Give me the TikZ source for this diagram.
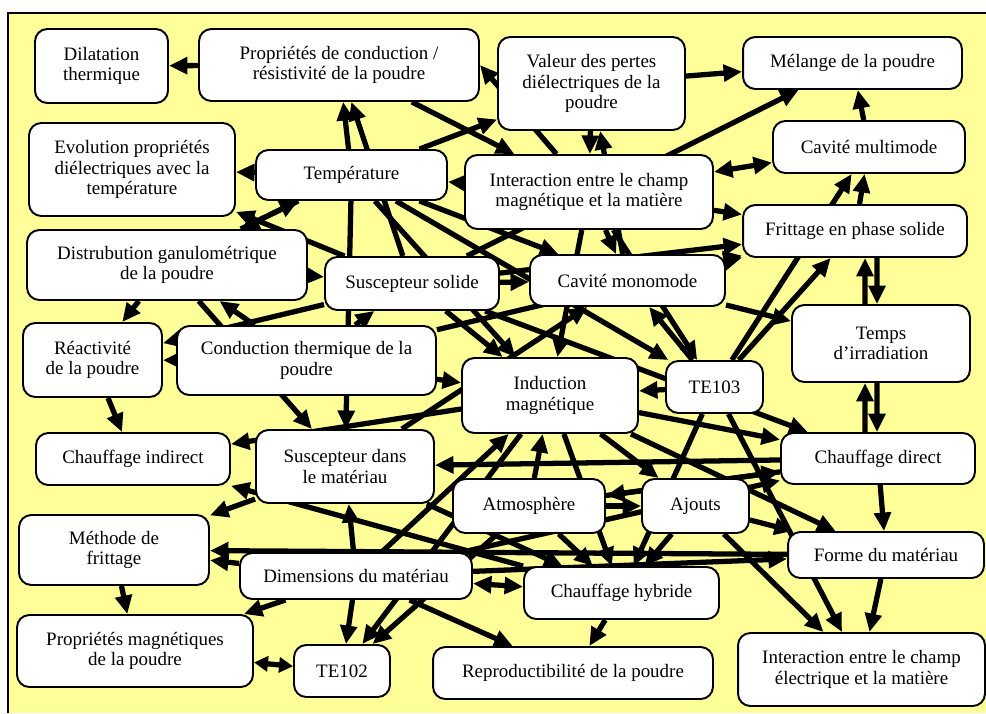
\documentclass[tikz,border=0pt]{standalone}
\usepackage{fontspec}
\setmainfont{Liberation Serif}
\usetikzlibrary{arrows.meta,backgrounds}
\definecolor{paleyellow}{RGB}{255,255,153}

\begin{document}
\begin{tikzpicture}[x=0.02cm,y=-0.02cm,font=\fontsize{10.8}{11.8}\selectfont,
 box/.style={draw,line width=1.1pt,fill=white,rounded corners=7pt,align=center,inner sep=1pt},
 arr/.style={-{Triangle[length=3.7mm,width=3.3mm]},line width=3pt},
 dbl/.style={arr,{Triangle[length=3.7mm,width=3.3mm]}-{Triangle[length=3.7mm,width=3.3mm]}}]
\useasboundingbox (0,0) rectangle (986,713);
\node[box,minimum width=2.66cm,minimum height=1.48cm] (dil) at (101.5,66) {Dilatation\\thermique};
\node[box,minimum width=5.6cm,minimum height=1.44cm] (cond) at (339,65) {Propriétés de conduction /\\résistivité de la poudre};
\node[box,minimum width=3.74cm,minimum height=1.86cm] (pertes) at (591.5,83.5) {Valeur des pertes\\diélectriques de la\\poudre};
\node[box,minimum width=4.38cm,minimum height=1.04cm] (mel) at (852.5,63) {Mélange de la poudre};
\node[box,minimum width=4.12cm,minimum height=1.86cm] (evol) at (132,169.5) {Evolution propriétés\\diélectriques avec la\\température};
\node[box,minimum width=3.82cm,minimum height=1.0cm] (temp) at (351.5,175) {Température};
\node[box,minimum width=4.96cm,minimum height=1.48cm] (interM) at (589,192) {Interaction entre le champ\\magnétique et la matière};
\node[box,minimum width=3.84cm,minimum height=1.04cm] (cavMulti) at (869,147) {Cavité multimode};
\node[box,minimum width=4.48cm,minimum height=1.04cm] (frit) at (855,231) {Frittage en phase solide};
\node[box,minimum width=5.6cm,minimum height=1.4cm] (distrib) at (167,265) {Distrubution ganulométrique\\de la poudre};
\node[box,minimum width=3.48cm,minimum height=1.06cm] (suscSol) at (412,283.5) {Suscepteur solide};
\node[box,minimum width=3.9cm,minimum height=1.02cm] (cavMono) at (627.5,280.5) {Cavité monomode};
\node[box,minimum width=3.56cm,minimum height=1.54cm] (temps) at (881,343.5) {Temps\\d’irradiation};
\node[box,minimum width=2.78cm,minimum height=1.48cm] (react) at (92.5,360) {Réactivité\\de la poudre};
\node[box,minimum width=5.18cm,minimum height=1.38cm] (condTh) at (306.5,360.5) {Conduction thermique de la\\poudre};
\node[box,minimum width=3.52cm,minimum height=1.5cm] (indM) at (550,395.5) {Induction\\magnétique};
\node[box,minimum width=1.94cm,minimum height=1.04cm] (te103) at (714.5,387) {TE103};
\node[box,minimum width=3.88cm,minimum height=1.04cm] (chInd) at (133,459) {Chauffage indirect};
\node[box,minimum width=3.56cm,minimum height=1.46cm] (suscMat) at (345,466.5) {Suscepteur dans\\le matériau};
\node[box,minimum width=3.88cm,minimum height=1.02cm] (chDir) at (878,458.5) {Chauffage direct};
\node[box,minimum width=3.04cm,minimum height=1.08cm] (atmo) at (529,506) {Atmosphère};
\node[box,minimum width=2.14cm,minimum height=1.08cm] (ajouts) at (695.5,506) {Ajouts};
\node[box,minimum width=3.8cm,minimum height=1.4cm] (methode) at (114,550) {Méthode de\\frittage};
\node[box,minimum width=4.64cm,minimum height=0.92cm] (dims) at (356,576) {Dimensions du matériau};
\node[box,minimum width=3.92cm,minimum height=0.92cm] (forme) at (886,555) {Forme du matériau};
\node[box,minimum width=3.9cm,minimum height=1.04cm] (chHyb) at (621.5,593) {Chauffage hybride};
\node[box,minimum width=4.72cm,minimum height=1.44cm] (propMag) at (135,651) {Propriétés magnétiques\\de la poudre};
\node[box,minimum width=1.92cm,minimum height=1.04cm] (te102) at (342,671) {TE102};
\node[box,minimum width=5.6cm,minimum height=1.04cm] (repro) at (573,673) {Reproductibilité de la poudre};
\node[box,minimum width=4.94cm,minimum height=1.46cm] (interE) at (861.5,669.5) {Interaction entre le champ\\électrique et la matière};
\begin{scope}[on background layer]
\fill[paleyellow] (8,13) rectangle (986,713);
\draw[line width=1.2pt] (8,713) -- (8,13) -- (986,13);
\foreach \a/\b in {cond/dil,pertes/mel,temp/cond,suscSol/cond,interM/temp,cond/interM,temp/pertes,
  pertes/interM,cavMono/pertes,suscSol/mel,interM/frit,frit/cavMulti,te103/cavMulti,cavMulti/mel,
  cavMono/temps,te103/frit,cavMono/frit,suscSol/frit,condTh/frit,distrib/react,suscSol/react,
  react/chInd,condTh/react,indM/chInd,temp/suscMat,distrib/suscMat,suscMat/methode,chHyb/chInd,
  methode/propMag,forme/methode,chDir/suscMat,indM/chDir,chDir/forme,ajouts/forme,forme/interE,
  te103/interE,ajouts/interE,chHyb/repro,dims/propMag,dims/te102,dims/repro,atmo/te102,indM/te102,
  dims/methode,dims/suscMat,atmo/ajouts,indM/ajouts,atmo/chHyb,ajouts/chHyb,te103/chHyb,indM/chHyb,
  dims/forme,suscMat/cavMono,te103/cavMono,suscSol/cavMono,condTh/indM,temp/cavMono,distrib/temp,
  temp/evol,suscSol/evol,distrib/suscSol,temp/distrib,condTh/distrib,condTh/suscSol,atmo/chDir,
  dims/chDir,te103/indM,suscSol/chDir,interM/te103,interM/indM,chDir/atmo,indM/forme,dims/indM,
  atmo/indM,suscMat/chHyb,suscSol/indM,temp/indM,temp/te103,interM/cavMono}
  \draw[arr] (\a)--(\b);
\draw[arr] (interM) -- (cond.east);
\foreach \a/\b in {interM/cavMulti,dims/chHyb} \draw[dbl] (\a)--(\b);
\draw[line width=3pt,{Triangle[length=2.8mm,width=3mm]}-{Triangle[length=2.8mm,width=3mm]}] (propMag) -- (te102);
\draw[arr] ([xshift=-0.32cm]temps.north) -- ([xshift=0.2cm]frit.south);
\draw[arr] ([xshift=0.44cm]frit.south) -- ([xshift=-0.08cm]temps.north);
\draw[arr] ([xshift=-0.26cm]chDir.north) -- ([xshift=-0.32cm]temps.south);
\draw[arr] ([xshift=-0.08cm]temps.south) -- ([xshift=-0.02cm]chDir.north);
\end{scope}
\end{tikzpicture}
\end{document}
